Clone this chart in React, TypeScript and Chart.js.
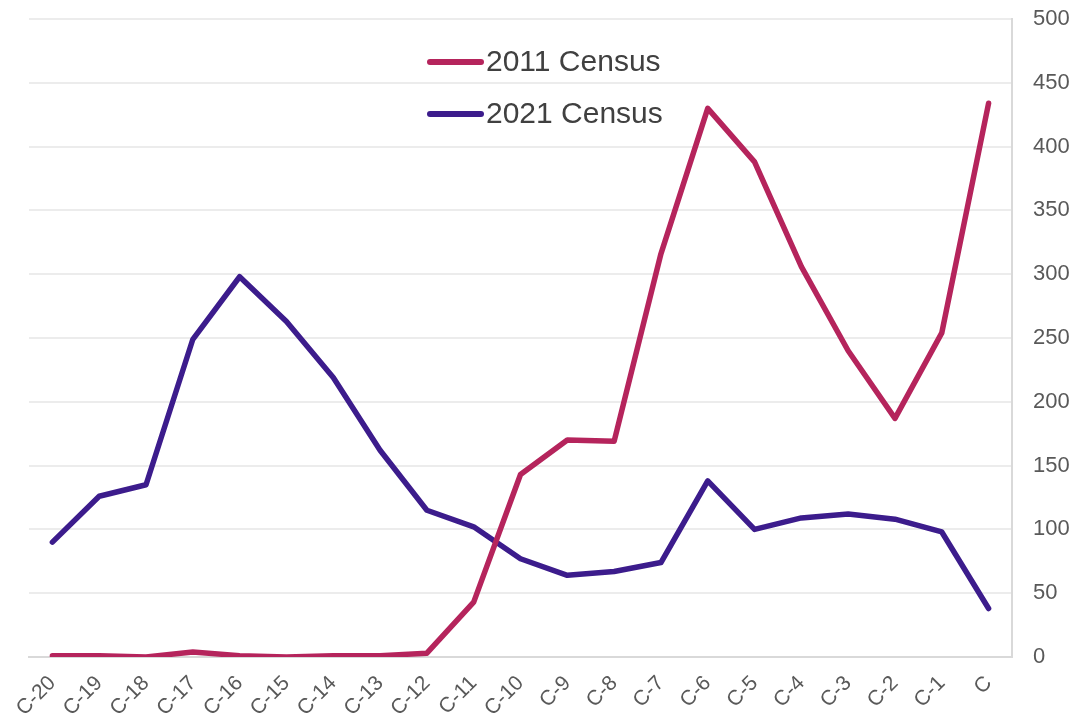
import React, { useEffect, useRef } from "react";
import { Chart, registerables } from "chart.js";

Chart.register(...registerables);

const categories = ["C-20","C-19","C-18","C-17","C-16","C-15","C-14","C-13","C-12","C-11","C-10","C-9","C-8","C-7","C-6","C-5","C-4","C-3","C-2","C-1","C"];
const census2011 = [1,1,0,4,1,0,1,1,3,43,143,170,169,316,430,388,306,240,187,254,434];
const census2021 = [90,126,135,249,298,263,219,162,115,102,77,64,67,74,138,100,109,112,108,98,38];
const seriesNames = ["2011 Census", "2021 Census"];
const colors = ["#B5245C", "#3C1C8C"];
const yTicks = [0, 50, 100, 150, 200, 250, 300, 350, 400, 450, 500];

const FONT = "'Liberation Sans', Arial, sans-serif";

const legendPlugin = {
  id: "customLegend",
  afterDraw(chart: any) {
    const ctx = chart.ctx;
    ctx.save();
    const rows = [62, 114];
    seriesNames.forEach((name, i) => {
      const y = rows[i];
      ctx.strokeStyle = colors[i];
      ctx.lineWidth = 6;
      ctx.lineCap = "round";
      ctx.beginPath();
      ctx.moveTo(430, y);
      ctx.lineTo(481, y);
      ctx.stroke();
      ctx.fillStyle = "#404040";
      ctx.font = `30px ${FONT}`;
      ctx.textBaseline = "middle";
      ctx.textAlign = "left";
      ctx.fillText(name, 486, y + 1);
    });
    ctx.restore();
  },
};

export default function App() {
  const ref = useRef<HTMLCanvasElement>(null);
  useEffect(() => {
    if (!ref.current) return;
    const chart = new Chart(ref.current, {
      type: "line",
      data: {
        labels: categories,
        datasets: [
          { label: seriesNames[0], data: census2011, borderColor: colors[0], backgroundColor: colors[0] },
          { label: seriesNames[1], data: census2021, borderColor: colors[1], backgroundColor: colors[1] },
        ],
      },
      options: {
        animation: false,
        responsive: false,
        maintainAspectRatio: false,
        layout: { padding: { left: 29, top: 19, right: 0, bottom: 0 } },
        elements: {
          point: { radius: 0 },
          line: { borderWidth: 5.5, tension: 0, borderJoinStyle: "round", borderCapStyle: "round" },
        },
        plugins: { legend: { display: false }, tooltip: { enabled: false } },
        scales: {
          x: {
            offset: true,
            grid: { display: false },
            border: { display: true, color: "#d9d9d9", width: 2 },
            ticks: {
              minRotation: 45,
              maxRotation: 45,
              autoSkip: false,
              padding: 6,
              color: "#595959",
              font: { family: FONT, size: 21 },
            },
            afterFit(scale: any) { scale.height = 65; },
          },
          y: {
            position: "right",
            min: 0,
            max: 500,
            afterBuildTicks(scale: any) { scale.ticks = yTicks.map((v) => ({ value: v })); },
            grid: { color: "#ececec", lineWidth: 2, drawTicks: false },
            border: { display: true, color: "#d9d9d9", width: 2 },
            ticks: {
              padding: 21,
              color: "#595959",
              font: { family: FONT, size: 22 },
            },
            afterFit(scale: any) {
              scale.width = 67;
              scale.paddingTop = 0;
              scale.paddingBottom = 0;
            },
          },
        },
      },
      plugins: [legendPlugin],
    });
    return () => chart.destroy();
  }, []);
  return (
    <div style={{ position: "absolute", left: 0, top: 0, width: 1079, height: 722, background: "#fff" }}>
      <canvas ref={ref} width={1079} height={722} style={{ width: 1079, height: 722 }} />
    </div>
  );
}
